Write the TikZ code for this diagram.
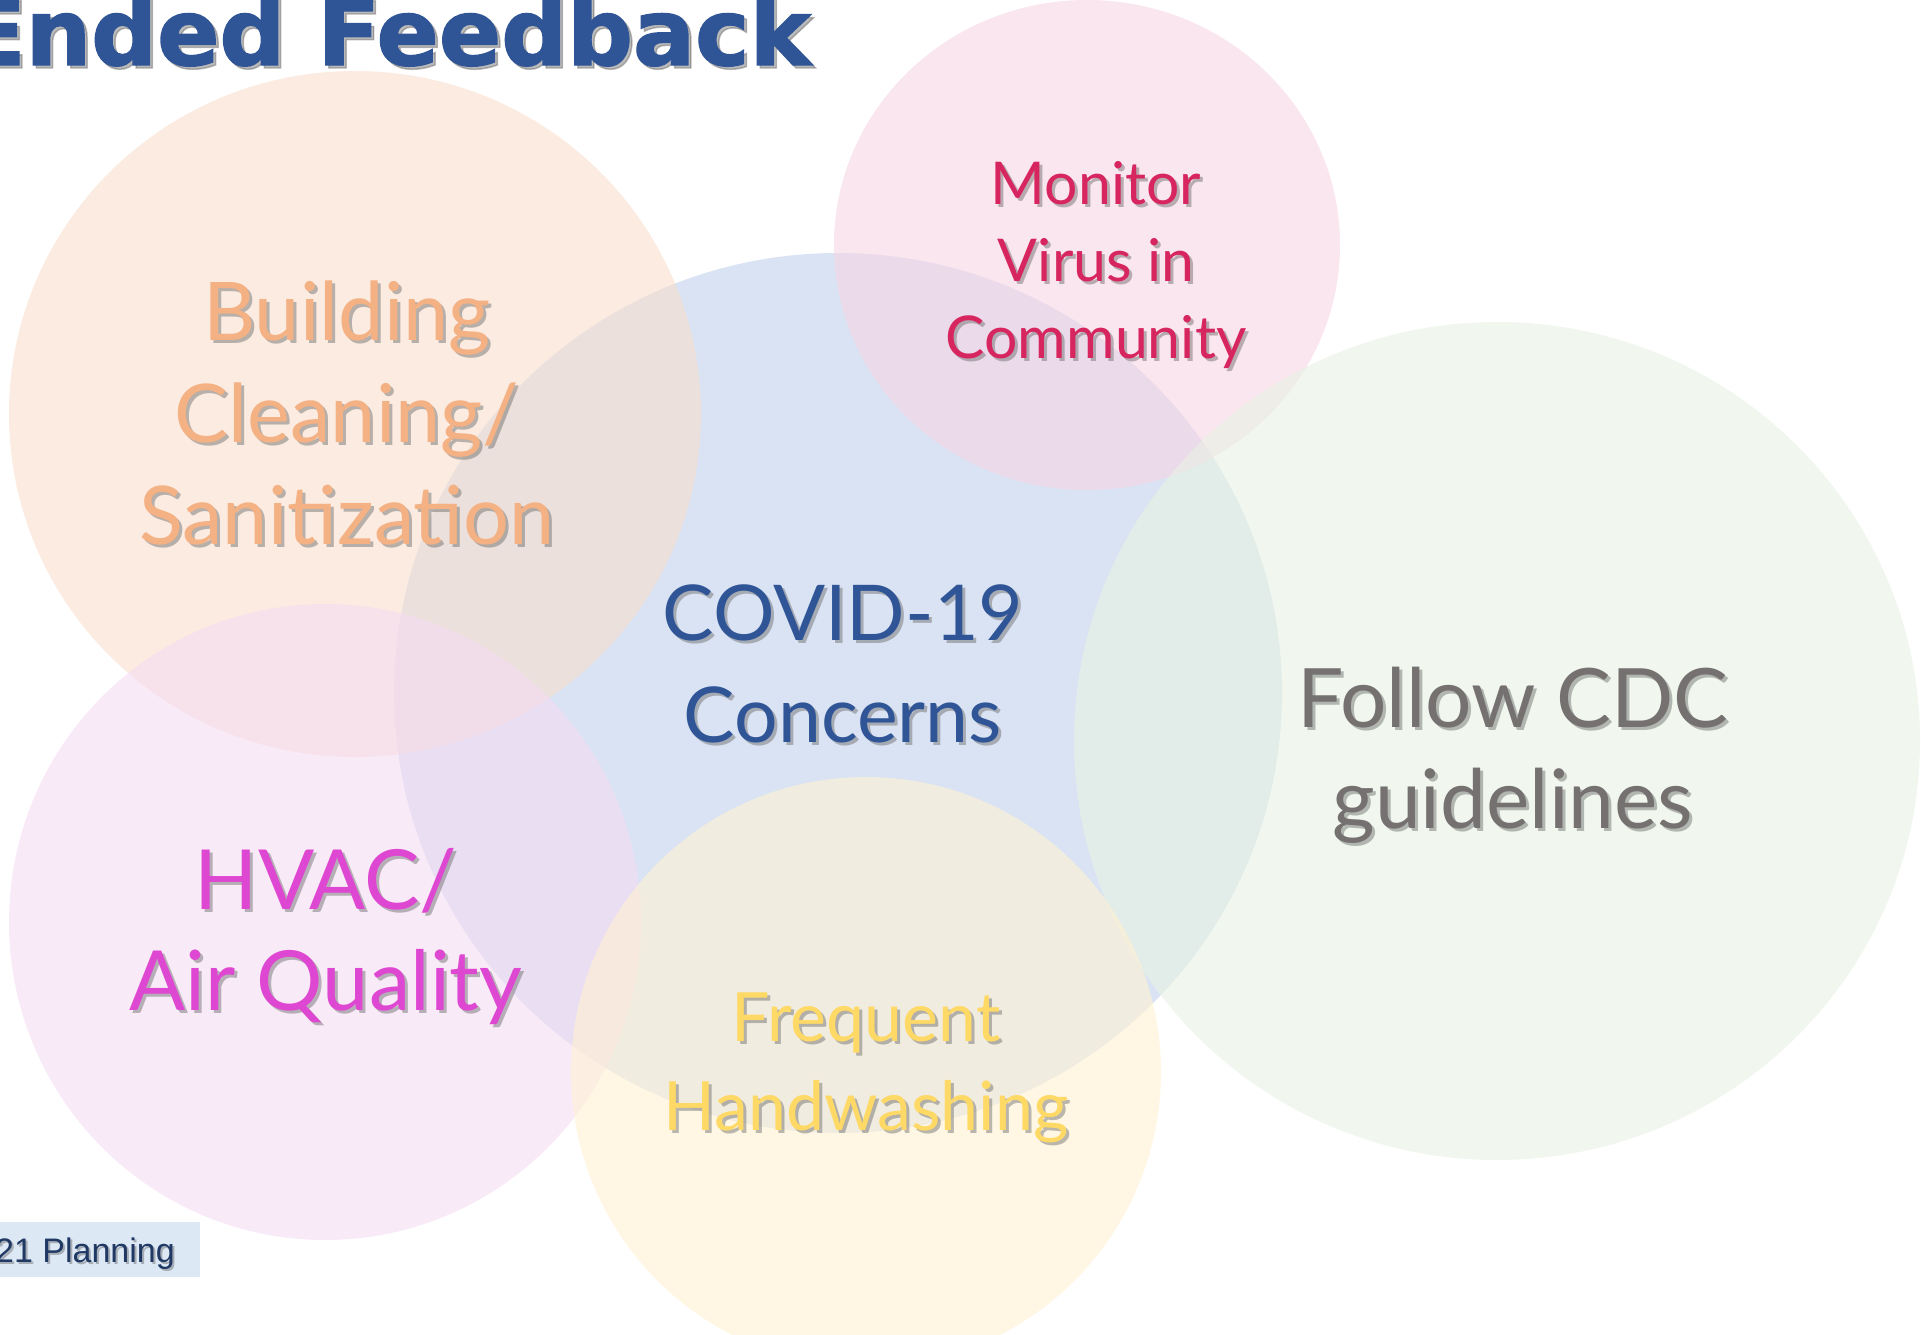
\documentclass[tikz,border=0pt]{standalone}
\usepackage{fontspec}
\setmainfont{Lato}
\newfontfamily\titlefont{DejaVu Sans Bold}[FakeBold=1.6]
\newfontfamily\planfont{Liberation Sans}
\usetikzlibrary{calc}

\definecolor{covidblue}{HTML}{2F5597}
\definecolor{cleanorange}{HTML}{F4B183}
\definecolor{monitorred}{HTML}{D6255F}
\definecolor{cdcgrey}{HTML}{767171}
\definecolor{hvacpink}{HTML}{DE47D1}
\definecolor{washyellow}{HTML}{FFD966}
\definecolor{plannavy}{HTML}{1F3864}
\definecolor{planfill}{HTML}{DDE8F5}
% bubble fills (drawn at 60% opacity)
\definecolor{orangeb}{HTML}{F8DECD}
\definecolor{blueb}{HTML}{C1D0EB}
\definecolor{pinkb}{HTML}{F7D5E3}
\definecolor{greenb}{HTML}{E8F2E4}
\definecolor{hvacb}{HTML}{F5DCF3}
\definecolor{yellowb}{HTML}{FFF2D2}

% name, x, y (baseline of last line), colour, size, skip, text  (with a soft drop shadow)
\newcommand{\bubtext}[7]{%
  \node[lbl, font=\fontsize{#5}{#6}\selectfont, text=black!60, text opacity=.45] at (#2+3,#3+3) {#7};
  \node[lbl, font=\fontsize{#5}{#6}\selectfont, text=#4] (#1) at (#2,#3) {#7};}

\begin{document}
\begin{tikzpicture}[x=1pt, y=-1pt,
    bubble/.style={fill opacity=.6},
    lbl/.style={align=center, inner sep=0pt, anchor=base}]
    \useasboundingbox (0,0) rectangle (1921,1334);
    \clip (0,0) rectangle (1921,1334);
    % Bubbles
    \fill[bubble, fill=blueb] (838,693) ellipse [x radius=444, y radius=440];
    \fill[bubble, fill=orangeb] (355,414) ellipse [x radius=346, y radius=343];
    \fill[bubble, fill=pinkb] (1087,245) ellipse [x radius=253, y radius=245];
    \fill[bubble, fill=greenb] (1497,741) ellipse [x radius=423, y radius=419];
    \fill[bubble, fill=hvacb] (325,922) ellipse [x radius=316, y radius=318];
    \fill[bubble, fill=yellowb] (866,1072) circle (295);
        % Labels
    \bubtext{clean}{347}{544}{cleanorange}{81}{102}{Building\\Cleaning/\\Sanitization}
    \bubtext{covid}{843}{742}{covidblue}{77}{102}{COVID-19\\Concerns}
    \bubtext{monitor}{1096}{358}{monitorred}{59}{77}{Monitor\\Virus in\\Community}
    \bubtext{cdc}{1513}{828}{cdcgrey}{82}{101}{Follow CDC\\guidelines}
    \bubtext{hvac}{326}{1010}{hvacpink}{83}{101}{HVAC/\\Air Quality}
    \bubtext{wash}{866}{1130}{washyellow}{68}{89}{Frequent\\Handwashing}
    % Title and footer
    \node[lbl, anchor=base east, font=\titlefont\fontsize{92}{92}\selectfont, text=black!60, text opacity=.45] at (814,68) {Ended Feedback};
    \node[lbl, anchor=base east, font=\titlefont\fontsize{92}{92}\selectfont, text=covidblue] (title) at (811,65) {Ended Feedback};
    \fill[planfill] (0,1222) rectangle (200,1277);
    \node[lbl, anchor=base east, font=\planfont\fontsize{34}{34}\selectfont, text=black!60, text opacity=.45] at (177,1264) {21 Planning};
    \node[lbl, anchor=base east, font=\planfont\fontsize{34}{34}\selectfont, text=plannavy] (plan) at (175,1262) {21 Planning};
\end{tikzpicture}
\end{document}
